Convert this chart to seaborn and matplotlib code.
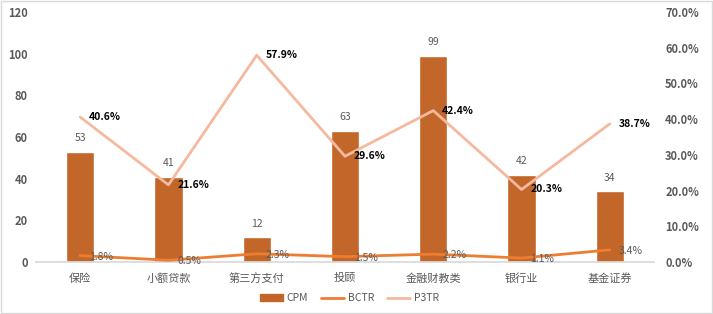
import matplotlib
matplotlib.use("Agg")
import matplotlib.pyplot as plt
import seaborn as sns
import pandas as pd
import numpy as np
from matplotlib.patches import Rectangle, Patch
from matplotlib.lines import Line2D

categories = ["保险", "小额贷款", "第三方支付", "投顾", "金融财教类", "银行业", "基金证券"]
cpm = [53, 41, 12, 63, 99, 42, 34]
bctr = [1.8, 0.5, 2.3, 1.5, 2.2, 1.1, 3.4]
p3tr = [40.6, 21.6, 57.9, 29.6, 42.4, 20.3, 38.7]
left_ticks = [0, 20, 40, 60, 80, 100, 120]
right_ticks = [0, 10, 20, 30, 40, 50, 60, 70]

sns.set_theme(style="white")
plt.rcParams['font.family'] = ['Noto Sans CJK SC', 'DejaVu Sans']

bar_c = "#C3662A"
bctr_c = "#ED7D31"
p3tr_c = "#F5B9A0"
txt_c = "#595959"

df = pd.DataFrame({"cat": categories, "CPM": cpm, "BCTR": bctr, "P3TR": p3tr})
df["x"] = np.arange(len(categories))

fig = plt.figure(figsize=(7.13, 3.14), dpi=100)
ax = fig.add_axes([36/713, 1-262/314, (654-36)/713, 250/314])
sns.barplot(data=df, x="cat", y="CPM", color=bar_c, width=0.32, ax=ax, saturation=1)
ax.set_ylim(0, 120)
ax.set_xlim(-0.5, 6.5)
ax.set_yticks(left_ticks)
ax.set_xlabel("")
ax.set_ylabel("")
for s in ["top", "right", "left"]:
    ax.spines[s].set_visible(False)
ax.spines["bottom"].set_color("#D9D9D9")
ax.tick_params(axis="both", length=0, colors=txt_c, labelsize=8)
ax.tick_params(axis="y", pad=6)
ax.tick_params(axis="x", pad=8)
for lab in ax.get_yticklabels():
    lab.set_fontweight("bold")
for i, v in enumerate(cpm):
    ax.text(i, v + 4, f"{v}", ha="center", va="bottom", fontsize=7.5, color=txt_c)

ax2 = ax.twinx()
sns.lineplot(x=df["x"].values, y=df["P3TR"].values, color=p3tr_c, linewidth=2, ax=ax2)
sns.lineplot(x=df["x"].values, y=df["BCTR"].values, color=bctr_c, linewidth=2, ax=ax2)
ax2.set_ylim(0, 70)
ax2.set_yticks(right_ticks)
ax2.set_yticklabels([f"{t:.1f}%" for t in right_ticks])
for s in ["top", "right", "left", "bottom"]:
    ax2.spines[s].set_visible(False)
ax2.tick_params(axis="y", length=0, colors=txt_c, labelsize=8, pad=8)
for lab in ax2.get_yticklabels():
    lab.set_fontweight("bold")
for i, v in enumerate(p3tr):
    ax2.text(i + 0.1, v, f"{v}%", ha="left", va="center", fontsize=7.5,
             color="black", fontweight="bold")
for i, v in enumerate(bctr):
    ax2.text(i + 0.1, v - 0.3, f"{v}%", ha="left", va="center", fontsize=7.5,
             color=txt_c)

handles = [Patch(color=bar_c, label="CPM"),
           Line2D([0], [0], color=bctr_c, lw=2, label="BCTR"),
           Line2D([0], [0], color=p3tr_c, lw=2, label="P3TR")]
fig.legend(handles=handles, loc="center", bbox_to_anchor=(0.49, 0.05), ncol=3,
           frameon=False, fontsize=7.5, labelcolor=txt_c, handlelength=2.2,
           columnspacing=1.2, handletextpad=0.4)

fig.patches.append(Rectangle((0.002, 0.003), 0.996, 0.994, transform=fig.transFigure,
                             fill=False, edgecolor="#D9D9D9", linewidth=1))
fig.savefig("out.png", dpi=100)
